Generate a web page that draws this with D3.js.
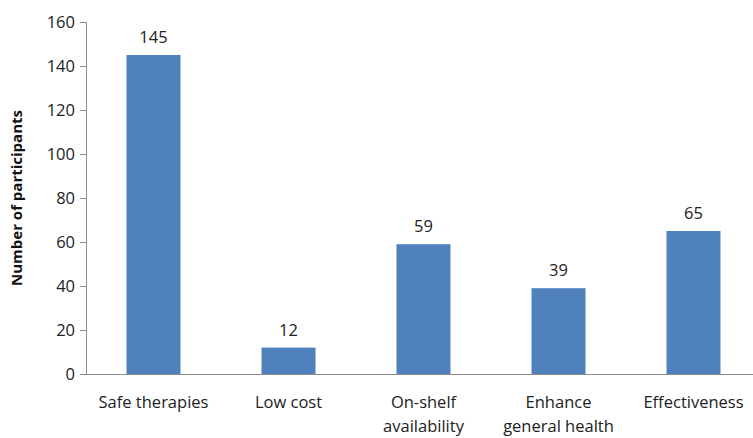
<!DOCTYPE html>
<html>
<head>
<meta charset="utf-8">
<script src="https://cdn.jsdelivr.net/npm/d3@7"></script>
<style>
  html, body { margin: 0; padding: 0; background: #fff; }
  svg { display: block; font-family: "Open Sans", Lato, sans-serif; }
</style>
</head>
<body>
<svg id="chart"></svg>
<script>
// data
const categories = [["Safe therapies"], ["Low cost"], ["On-shelf", "availability"], ["Enhance", "general health"], ["Effectiveness"]];
const participants = [145, 12, 59, 39, 65];
const yTicks = [0, 20, 40, 60, 80, 100, 120, 140, 160];

const w = 753, h = 438;
const svg = d3.select('#chart').attr('width', w).attr('height', h);

// plot spans past the right edge, like the cropped original
const x = d3.scaleBand()
    .domain(d3.range(categories.length))
    .range([86, 761])
    .paddingInner(0.6)
    .paddingOuter(0.3);
const y = d3.scaleLinear().domain([0, 160]).range([374, 22]);

// y axis
const yAxis = d3.axisLeft(y).tickValues(yTicks).tickSizeOuter(0).tickSize(6).tickPadding(5);
const gy = svg.append('g').attr('transform', 'translate(86,0)').call(yAxis);
gy.select('.domain').attr('stroke', '#8c8c8c');
gy.selectAll('.tick line').attr('stroke', '#8c8c8c');
gy.selectAll('.tick text').attr('font-size', 16.5).attr('fill', '#222').attr('font-family', '"Open Sans", sans-serif');

// bars
svg.selectAll('.bar')
    .data(participants)
    .join('rect')
    .attr('class', 'bar')
    .attr('x', (d, i) => x(i))
    .attr('width', x.bandwidth())
    .attr('y', d => y(d))
    .attr('height', d => y(0) - y(d))
    .attr('fill', '#4f81bd');

// x axis line, no ticks
const xAxis = d3.axisBottom(x).tickSize(0).tickFormat('');
const gx = svg.append('g').attr('transform', `translate(0,${y(0)})`).call(xAxis);
gx.select('.domain').attr('stroke', '#8c8c8c').attr('d', `M86,0.5H${w}`);

// category labels
const lab = svg.append('g').selectAll('text')
    .data(categories)
    .join('text')
    .attr('text-anchor', 'middle')
    .attr('font-size', 16.5)
    .attr('fill', '#222')
    .attr('x', (d, i) => x(i) + x.bandwidth() / 2)
    .attr('y', 408);
lab.selectAll('tspan')
    .data(d => d)
    .join('tspan')
    .attr('x', function () { return this.parentNode.getAttribute('x'); })
    .attr('dy', (d, i) => i ? 24 : 0)
    .text(d => d);

// value labels
svg.append('g').selectAll('text')
    .data(participants)
    .join('text')
    .attr('text-anchor', 'middle')
    .attr('font-size', 16.5)
    .attr('fill', '#222')
    .attr('x', (d, i) => x(i) + x.bandwidth() / 2)
    .attr('y', d => y(d) - 12)
    .text(d => d);

// y title
svg.append('text')
    .attr('transform', `translate(22,${(y(0) + y(160)) / 2}) rotate(-90)`)
    .attr('text-anchor', 'middle')
    .attr('font-size', 15)
    .attr('font-weight', 'bold')
    .attr('fill', '#111')
    .text('Number of participants');
</script>
</body>
</html>
